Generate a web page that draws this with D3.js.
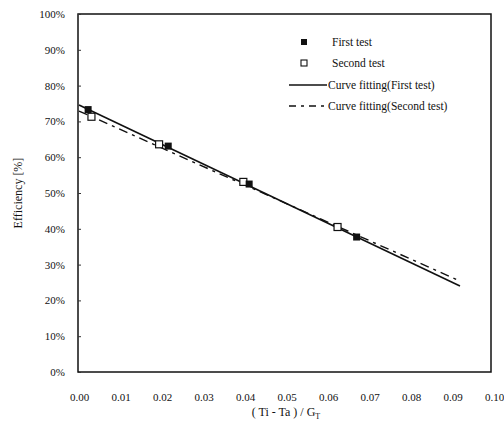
<!DOCTYPE html>
<html>
<head>
<meta charset="utf-8">
<script src="https://cdn.jsdelivr.net/npm/d3@7"></script>
<style>
	body { margin: 0; background: #fff; }
	text { font-family: "Liberation Serif", "DejaVu Serif", serif; fill: #111; }
</style>
</head>
<body>
<div id="chart"></div>
<script>
// measured points
var firstX = [0.0022, 0.0215, 0.0410, 0.0669];
var firstY = [73.3, 63.1, 52.5, 37.7];
var secondX = [0.0030, 0.0193, 0.0396, 0.0623];
var secondY = [71.3, 63.6, 53.1, 40.5];

// fitted lines (end points)
var fit1X = [0.0, 0.0918];
var fit1Y = [74.6, 24.0];
var fit2X = [0.0, 0.0918];
var fit2Y = [72.9, 25.4];

var xTicks = [0, 0.01, 0.02, 0.03, 0.04, 0.05, 0.06, 0.07, 0.08, 0.09, 0.10];
var yTicks = [0, 10, 20, 30, 40, 50, 60, 70, 80, 90, 100];

var legendLabels = ["First test", "Second test", "Curve fitting(First test)", "Curve fitting(Second test)"];

var W = 504, H = 433;
var pLeft = 78, pTop = 14, pRight = 491, pBottom = 372;

var svg = d3.select("#chart").append("svg")
	.attr("width", W)
	.attr("height", H);

var x = d3.scaleLinear().domain([0, 0.1]).range([pLeft + 1, pRight + 3]);
var y = d3.scaleLinear().domain([0, 100]).range([pBottom, pTop]);

// frame
svg.append("rect")
	.attr("x", pLeft)
	.attr("y", pTop)
	.attr("width", pRight - pLeft)
	.attr("height", pBottom - pTop)
	.attr("fill", "none")
	.attr("stroke", "#111")
	.attr("stroke-width", 1.5);

// y axis
var yAxis = d3.axisLeft(y)
	.tickValues(yTicks)
	.tickSize(-3)
	.tickPadding(13)
	.tickFormat(function(d) { return d + "%"; });
var gy = svg.append("g")
	.attr("transform", "translate(" + pLeft + ",0)")
	.call(yAxis);
gy.select(".domain").remove();
gy.selectAll(".tick line").attr("stroke", "#333");
gy.selectAll("text").style("font-size", "11px").attr("fill", "#111");

// x axis
var xAxis = d3.axisBottom(x)
	.tickValues(xTicks)
	.tickSize(0)
	.tickPadding(21)
	.tickFormat(d3.format(".2f"));
var gx = svg.append("g")
	.attr("transform", "translate(0," + pBottom + ")")
	.call(xAxis);
gx.select(".domain").remove();
gx.selectAll("text").style("font-size", "11px").attr("fill", "#111");

// axis titles
svg.append("text")
	.attr("transform", "translate(22," + ((pTop + pBottom) / 2) + ") rotate(-90)")
	.attr("text-anchor", "middle")
	.style("font-size", "12px")
	.text("Efficiency [%]");

var xt = svg.append("text")
	.attr("x", 286)
	.attr("y", 416)
	.attr("text-anchor", "middle")
	.style("font-size", "12px");
xt.append("tspan").text("( Ti - Ta ) / G");
xt.append("tspan").attr("dy", 3).style("font-size", "8px").text("T");

// fitted lines
var line = d3.line()
	.x(function(d) { return x(d[0]); })
	.y(function(d) { return y(d[1]); });

svg.append("path")
	.datum(d3.zip(fit1X, fit1Y))
	.attr("d", line)
	.attr("fill", "none")
	.attr("stroke", "#111")
	.attr("stroke-width", 1.6);

svg.append("path")
	.datum(d3.zip(fit2X, fit2Y))
	.attr("d", line)
	.attr("fill", "none")
	.attr("stroke", "#111")
	.attr("stroke-width", 1.4)
	.attr("stroke-dasharray", "9,5,3,5");

// points
var s = 7;
svg.selectAll(".p2")
	.data(d3.zip(secondX, secondY))
	.enter()
	.append("rect")
	.attr("class", "p2")
	.attr("x", function(d) { return x(d[0]) - s / 2; })
	.attr("y", function(d) { return y(d[1]) - s / 2; })
	.attr("width", s)
	.attr("height", s)
	.attr("fill", "#fff")
	.attr("stroke", "#111")
	.attr("stroke-width", 1.2);

svg.selectAll(".p1")
	.data(d3.zip(firstX, firstY))
	.enter()
	.append("rect")
	.attr("class", "p1")
	.attr("x", function(d) { return x(d[0]) - s / 2; })
	.attr("y", function(d) { return y(d[1]) - s / 2; })
	.attr("width", s)
	.attr("height", s)
	.attr("fill", "#111");

// legend
var lg = svg.append("g");
var ly = [42, 63, 85, 106];
lg.append("rect").attr("x", 301).attr("y", ly[0] - 3).attr("width", 6).attr("height", 6).attr("fill", "#111");
lg.append("rect").attr("x", 301).attr("y", ly[1] - 3).attr("width", 6).attr("height", 6)
	.attr("fill", "#fff").attr("stroke", "#111").attr("stroke-width", 1.1);
lg.append("line").attr("x1", 289).attr("x2", 327).attr("y1", ly[2]).attr("y2", ly[2])
	.attr("stroke", "#111").attr("stroke-width", 1.4);
lg.append("line").attr("x1", 289).attr("x2", 327).attr("y1", ly[3]).attr("y2", ly[3])
	.attr("stroke", "#111").attr("stroke-width", 1.4).attr("stroke-dasharray", "7,5,3,5");

lg.selectAll(".lt")
	.data(legendLabels)
	.enter()
	.append("text")
	.attr("class", "lt")
	.attr("x", function(d, i) { return i < 2 ? 332 : 328; })
	.attr("y", function(d, i) { return ly[i] + 4; })
	.style("font-size", "11.5px")
	.text(function(d) { return d; });
</script>
</body>
</html>
